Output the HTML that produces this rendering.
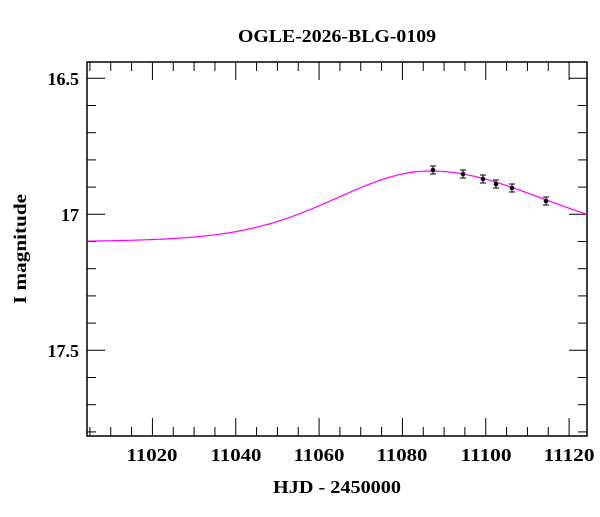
<!DOCTYPE html>
<html><head><style>
body{margin:0;background:#fff;}
svg text{font-family:"Liberation Serif",serif;font-size:18px;font-weight:bold;fill:#000;}
</style></head><body>
<svg id="s" width="600" height="512" xmlns="http://www.w3.org/2000/svg">
<rect width="600" height="512" fill="#fff"/>
<text x="337" y="42" text-anchor="middle" textLength="198" lengthAdjust="spacingAndGlyphs">OGLE-2026-BLG-0109</text>
<g id="ticks" stroke="#000" stroke-width="1"></g>
<rect x="87" y="62" width="500" height="374" fill="none" stroke="#000" stroke-width="1.5"/>
<g text-anchor="end">
<text x="79" y="85">16.5</text>
<text x="79" y="221">17</text>
<text x="79" y="357">17.5</text>
</g>
<g text-anchor="middle">
<text x="152" y="461" textLength="51" lengthAdjust="spacingAndGlyphs">11020</text>
<text x="236" y="461" textLength="51" lengthAdjust="spacingAndGlyphs">11040</text>
<text x="319" y="461" textLength="51" lengthAdjust="spacingAndGlyphs">11060</text>
<text x="402" y="461" textLength="51" lengthAdjust="spacingAndGlyphs">11080</text>
<text x="486" y="461" textLength="51" lengthAdjust="spacingAndGlyphs">11100</text>
<text x="569" y="461" textLength="51" lengthAdjust="spacingAndGlyphs">11120</text>
<text x="337" y="493" textLength="128" lengthAdjust="spacingAndGlyphs">HJD - 2450000</text>
<text transform="translate(26,249) rotate(-90)" textLength="110" lengthAdjust="spacingAndGlyphs">I magnitude</text>
</g>
<path id="curve" fill="none" stroke="#ff00ff" stroke-width="1.2"/>
<g id="pts"></g>
</svg>
<script>
function X(t){return 87+(t-11004.3)*4.1667;}
function Y(m){return 78.3+(m-16.5)*272;}
var tk=document.getElementById("ticks"),h="";
for(var t=11005;t<=11124;t+=5){var x=X(t),L=(t%20==0)?18:9;
h+='<line x1="'+x+'" y1="62" x2="'+x+'" y2="'+(62+L)+'"/><line x1="'+x+'" y1="436" x2="'+x+'" y2="'+(436-L)+'"/>';}
for(var i=0;i<=14;i++){var m=16.5+i*0.1,y=Y(m);if(y<62||y>436)continue;var L=(i%5==0)?18:9;
h+='<line x1="87" y1="'+y+'" x2="'+(87+L)+'" y2="'+y+'"/><line x1="587" y1="'+y+'" x2="'+(587-L)+'" y2="'+y+'"/>';}
tk.innerHTML=h;
var d="";
for(var x=87;x<=587;x+=2){var dt=(x-430)/4.1667;var s=dt<0?22:27;
var f=0.8*Math.exp(-dt*dt/(2*s*s))+0.2/(1+Math.pow(dt/40,2));var y=244-73*f;d+=(x==87?"M":"L")+x+","+y.toFixed(1);}
document.getElementById("curve").setAttribute("d",d);
var P=[[433,170],[463,174],[483,179],[496,184],[512,188],[546,201]],g="";
P.forEach(function(p){g+='<line x1="'+p[0]+'" y1="'+(p[1]-4)+'" x2="'+p[0]+'" y2="'+(p[1]+4)+'" stroke="#000"/><line x1="'+(p[0]-3)+'" y1="'+(p[1]-4)+'" x2="'+(p[0]+3)+'" y2="'+(p[1]-4)+'" stroke="#000"/><line x1="'+(p[0]-3)+'" y1="'+(p[1]+4)+'" x2="'+(p[0]+3)+'" y2="'+(p[1]+4)+'" stroke="#000"/><circle cx="'+p[0]+'" cy="'+p[1]+'" r="2.3" fill="#000"/>';});
document.getElementById("pts").innerHTML=g;
</script>
</body></html>
